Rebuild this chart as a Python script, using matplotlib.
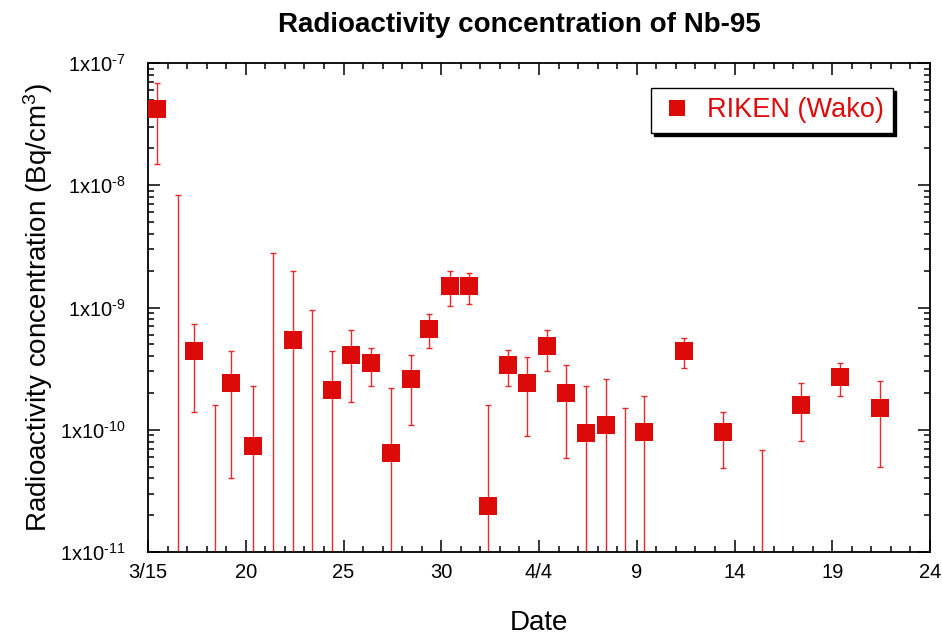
import numpy as np
import matplotlib
matplotlib.use('Agg')
from matplotlib import pyplot as plt
from matplotlib.ticker import FixedLocator, FixedFormatter, LogLocator, NullFormatter

plt.rcParams['font.family'] = ['Liberation Sans', 'DejaVu Sans']
plt.rcParams['mathtext.fontset'] = 'custom'
plt.rcParams['mathtext.rm'] = 'Liberation Sans'
plt.rcParams['mathtext.it'] = 'Liberation Sans:italic'
plt.rcParams['mathtext.bf'] = 'Liberation Sans:bold'

# Data (days since 3/15 00:00), Bq/cm3; nan = below detection, lower 0 = bar runs off axis
days = [0.44, 1.55, 2.36, 3.43, 4.25, 5.39, 6.41, 7.40, 8.41, 9.41, 10.40, 11.41,
        12.41, 13.43, 14.39, 15.45, 16.40, 17.39, 18.40, 19.39, 20.41, 21.36, 22.40,
        23.41, 24.42, 25.37, 27.40, 29.41, 31.42, 33.42, 35.41, 37.42]
conc = [4.2e-8, np.nan, 4.4e-10, np.nan, 2.4e-10, 7.4e-11, np.nan, 5.4e-10, np.nan,
        2.1e-10, 4.1e-10, 3.5e-10, 6.5e-11, 2.6e-10, 6.7e-10, 1.5e-9, 1.5e-9, 2.4e-11,
        3.4e-10, 2.4e-10, 4.8e-10, 2.0e-10, 9.4e-11, 1.1e-10, np.nan, 9.6e-11, 4.4e-10,
        9.5e-11, np.nan, 1.6e-10, 2.7e-10, 1.5e-10]
err_hi = [6.9e-8, 8.3e-9, 7.3e-10, 1.6e-10, 4.4e-10, 2.3e-10, 2.8e-9, 2.0e-9, 9.5e-10,
          4.4e-10, 6.5e-10, 4.7e-10, 2.2e-10, 4.1e-10, 8.9e-10, 2.0e-9, 1.9e-9, 1.6e-10,
          4.5e-10, 3.9e-10, 6.6e-10, 3.4e-10, 2.3e-10, 2.6e-10, 1.5e-10, 1.9e-10, 5.6e-10,
          1.4e-10, 6.8e-11, 2.4e-10, 3.5e-10, 2.5e-10]
err_lo = [1.5e-8, 0, 1.4e-10, 0, 4.0e-11, 0, 0, 0, 0, 0, 1.7e-10, 2.3e-10, 0, 1.1e-10,
          4.7e-10, 1.03e-9, 1.06e-9, 0, 2.3e-10, 8.9e-11, 3.0e-10, 5.9e-11, 0, 0, 0, 0,
          3.2e-10, 4.9e-11, 0, 8.1e-11, 1.9e-10, 5.0e-11]

xtick_pos = [0, 5, 10, 15, 20, 25, 30, 35, 40]
xtick_labels = ['3/15', '20', '25', '30', '4/4', '9', '14', '19', '24']
ytick_pos = [1e-11, 1e-10, 1e-9, 1e-8, 1e-7]
ytick_labels = [r'1x10$^{\text{-11}}$', r'1x10$^{\text{-10}}$',
                r'1x10$^{\text{-9}}$', r'1x10$^{\text{-8}}$',
                r'1x10$^{\text{-7}}$']

red = '#dd0a0a'
bar_red = '#e42a2a'

fig = plt.figure(figsize=(9.42, 6.4), dpi=100)
ax = fig.add_axes([148/942, 88/640, 782/942, 489/640])

x = np.array(days)
hi = np.array(err_hi)
lo = np.array(err_lo)
lo_plot = np.where(lo > 0, lo, 1e-13)  # off-axis for undetected lower bound

ax.vlines(x, lo_plot, hi, color=bar_red, lw=1.0, zorder=2)
ax.plot(x, hi, ls='none', marker='_', ms=5, mew=1.0, color=bar_red, zorder=2)
ax.plot(x[lo > 0], lo[lo > 0], ls='none', marker='_', ms=5, mew=1.0, color=bar_red, zorder=2)
ax.plot(x, conc, ls='none', marker='s', ms=12.5, mfc=red, mec=red, mew=0,
        zorder=3, label='RIKEN (Wako)')

ax.set_yscale('log')
ax.set_xlim(0, 40)
ax.set_ylim(1e-11, 1e-7)

ax.xaxis.set_major_locator(FixedLocator(xtick_pos))
ax.xaxis.set_major_formatter(FixedFormatter(xtick_labels))
ax.xaxis.set_minor_locator(FixedLocator(range(0, 41)))
ax.yaxis.set_major_locator(FixedLocator(ytick_pos))
ax.yaxis.set_major_formatter(FixedFormatter(ytick_labels))
ax.yaxis.set_minor_locator(LogLocator(base=10, subs=np.arange(2, 10)))
ax.yaxis.set_minor_formatter(NullFormatter())

ax.tick_params(which='both', direction='in', top=True, right=True, width=1.1, colors='black')
ax.tick_params(which='major', length=8.5, labelsize=14.5)
ax.tick_params(which='minor', length=4.3)
ax.tick_params(axis='x', which='major', pad=8)
ax.tick_params(axis='y', which='major', pad=16)
for s in ax.spines.values():
    s.set_linewidth(1.3)

ax.set_xlabel('Date', fontsize=20, labelpad=20)
ax.set_ylabel('Radioactivity concentration (Bq/cm$^{\\mathregular{3}}$)', fontsize=20, labelpad=4)

fig.text(519/942, 1 - 32.5/640, 'Radioactivity concentration of Nb-95',
         ha='center', va='baseline', fontsize=20, fontweight='bold')

leg = ax.legend(loc='upper right', bbox_to_anchor=(0.953, 0.949), fontsize=19.5,
                frameon=True, fancybox=False, shadow={'color': 'black', 'alpha': 1},
                borderpad=0.35, borderaxespad=0, handletextpad=0.5, handlelength=1.2,
                markerscale=0.95)
leg.get_frame().set_edgecolor('black')
leg.get_frame().set_linewidth(1.0)
leg.get_frame().set_alpha(1)
for t in leg.get_texts():
    t.set_color(red)

plt.savefig('out.png', dpi=100)
